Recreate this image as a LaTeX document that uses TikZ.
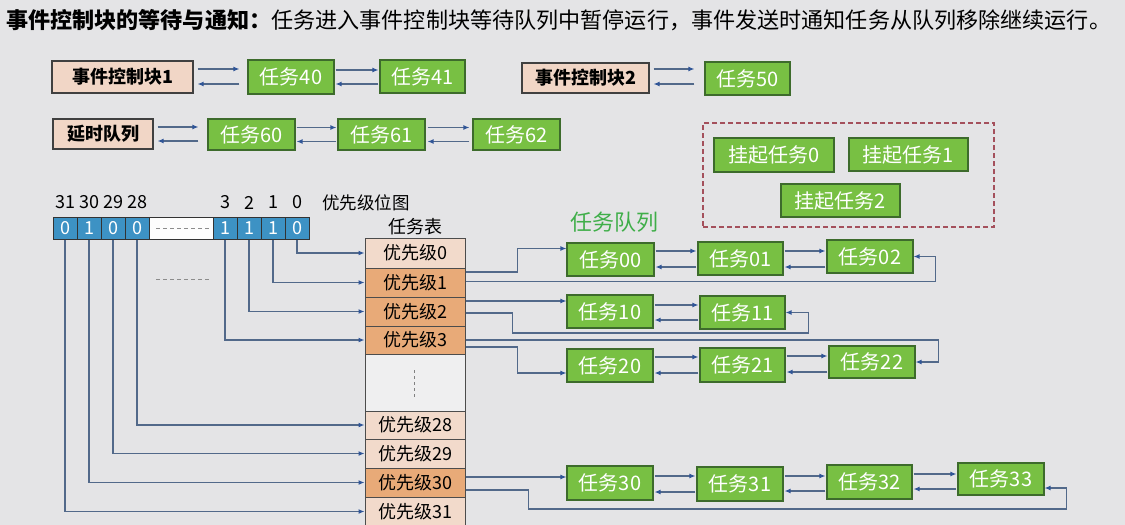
\documentclass[tikz,border=0pt]{standalone}
\usepackage{fontspec}
\setmainfont{Noto Sans CJK SC}
\usetikzlibrary{arrows.meta,calc}
\definecolor{bg}{HTML}{E4E4E6}
\definecolor{peach}{HTML}{F1D6C6}
\definecolor{lpeach}{HTML}{F2DACB}
\definecolor{orng}{HTML}{E8AA78}
\definecolor{tgreen}{HTML}{78C043}
\definecolor{tgreenb}{HTML}{3D6B2C}
\definecolor{connc}{HTML}{52698A}
\definecolor{tipc}{HTML}{2F5597}
\definecolor{bitblue}{HTML}{3D92C4}
\definecolor{dashred}{HTML}{A4505C}
\definecolor{qgreen}{HTML}{3FAE49}
\tikzset{
  evtbox/.style={draw=black!75, line width=1.1pt, fill=peach, inner sep=0pt, text=black, font=\fontsize{18}{18}\selectfont\bfseries},
  taskbox/.style={draw=tgreenb, line width=1.1pt, fill=tgreen, inner sep=0pt, text=white, font=\fontsize{20}{20}\selectfont},
  priobox/.style={draw=black!70, line width=1pt, fill=lpeach, inner sep=0pt, text=black, font=\fontsize{18}{18}\selectfont},
  prioact/.style={priobox, fill=orng},
  bitcell/.style={draw=black!80, line width=1pt, fill=bitblue, inner sep=0pt, text=white, minimum width=24pt, minimum height=22pt, font=\fontsize{18}{18}\selectfont},
  bitnum/.style={inner sep=0pt, text=black, font=\fontsize{18}{18}\selectfont},
  lbl/.style={inner sep=0pt, text=black, font=\fontsize{18}{18}\selectfont},
  conn/.style={draw=connc, line width=1.4pt, -{Latex[length=6pt,width=5pt,color=tipc]}},
  gapline/.style={draw=black!45, line width=1pt, dash pattern=on 4pt off 3pt},
}
\newcommand\bx[7]{\node[#2, minimum width={(#4)-(#3)}, minimum height={(#6)-(#5)}] (#1) at ({((#3)+(#4))/2},{((#5)+(#6))/2}) {#7};}
\newcommand\dlink[6]{%
  \path ($(#1.east)+(0,#3)$) coordinate (fa) ($(#1.east)+(0,#4)$) coordinate (ba);
  \draw[conn, shorten <=#5, shorten >=#6] (fa) -- (fa -| #2.west);
  \draw[conn, shorten <=#6, shorten >=#5] (ba -| #2.west) -- (ba);
}
\begin{document}
\begin{tikzpicture}[x=1pt,y=-1pt]
\fill[bg] (0,0) rectangle (1125,525);
\useasboundingbox (0,0) rectangle (1125,525);

% title
\node[anchor=west, inner sep=0pt, font=\fontsize{22.1}{22.1}\selectfont] (title) at (6,20)
  {{\bfseries 事件控制块的等待与通知：}任务进入事件控制块等待队列中暂停运行，事件发送时通知任务从队列移除继续运行。};

% event control blocks and delay queue
\bx{e1}{evtbox}{52}{193}{61}{93}{事件控制块1}
\bx{t40}{taskbox}{248}{334}{60}{94}{任务40}
\bx{t41}{taskbox}{380}{465}{60}{93}{任务41}
\bx{e2}{evtbox}{522}{649}{63}{93}{事件控制块2}
\bx{t50}{taskbox}{705}{790}{62}{95}{任务50}
\bx{dl}{evtbox}{53}{153}{119}{149}{延时队列}
\bx{t60}{taskbox}{208}{295}{119}{150}{任务60}
\bx{t61}{taskbox}{338}{425}{119}{150}{任务61}
\bx{t62}{taskbox}{473}{560}{119}{150}{任务62}

\dlink{e1}{t40}{-8}{7}{4pt}{8pt}
\dlink{t40}{t41}{-7}{7}{1pt}{1pt}
\dlink{e2}{t50}{-9}{6}{4pt}{10pt}
\dlink{dl}{t60}{-7}{7}{4pt}{9pt}
\dlink{t60}{t61}{-7}{7}{1pt}{1pt}
\dlink{t61}{t62}{-7}{7}{2pt}{3pt}

% suspended tasks
\node[draw=dashred, line width=1.3pt, dash pattern=on 5pt off 3pt, inner sep=0pt,
  minimum width=291pt, minimum height=104pt] (susp) at (848.5,175) {};
\bx{s0}{taskbox}{714}{834}{138}{172}{挂起任务0}
\bx{s1}{taskbox}{849}{968}{138}{171}{挂起任务1}
\bx{s2}{taskbox}{781}{900}{184}{217}{挂起任务2}

% bitmap
\node[draw=black!80, line width=1pt, fill=white!92!bg, inner sep=0pt, minimum width=64pt, minimum height=22pt] (bgap) at (181,228) {};
\draw[gapline] (156,228) -- (210,228);
\draw[gapline] (156,279) -- (210,279);
\bx{b31}{bitcell}{53}{77}{217}{239}{0}
\bx{b30}{bitcell}{77}{101}{217}{239}{1}
\bx{b29}{bitcell}{101}{125}{217}{239}{0}
\bx{b28}{bitcell}{125}{149}{217}{239}{0}
\bx{b3}{bitcell}{213}{237}{217}{239}{1}
\bx{b2}{bitcell}{237}{261}{217}{239}{1}
\bx{b1}{bitcell}{261}{285}{217}{239}{1}
\bx{b0}{bitcell}{285}{309}{217}{239}{0}
\foreach \b in {31,30,29,28,3,2,1,0}{
  \node[bitnum] (n\b) at ($(b\b.north)+(0,-14)$) {\b};
}
\node[lbl, font=\fontsize{17.5}{17.5}\selectfont] (bmlabel) at (366,203) {优先级位图};
\node[lbl] (tbllabel) at (415,227) {任务表};

% task table
\bx{p0}{priobox}{365}{465}{238}{268}{优先级0}
\bx{p1}{prioact}{365}{465}{268}{297}{优先级1}
\bx{p2}{prioact}{365}{465}{297}{326}{优先级2}
\bx{p3}{prioact}{365}{465}{326}{354}{优先级3}
\bx{pgap}{priobox, fill=white!40!bg}{365}{465}{354}{411}{}
\draw[gapline, draw=black!50, dash pattern=on 3pt off 3pt] (414,370) -- (414,397);
\bx{p28}{priobox}{365}{465}{411}{439}{优先级28}
\bx{p29}{priobox}{365}{465}{439}{468}{优先级29}
\bx{p30}{prioact}{365}{465}{468}{497}{优先级30}
\bx{p31}{priobox}{365}{465}{497}{526}{优先级31}

% bitmap to table
\foreach \b in {0,1,2,3,28,29,30,31}{
  \draw[conn] (b\b.south) |- (p\b.west);
}

% task queues
\node[inner sep=0pt, text=qgreen, font=\fontsize{22}{22}\selectfont] (qlabel) at (614,222) {任务队列};
\bx{t00}{taskbox}{567}{654}{243}{276}{任务00}
\bx{t01}{taskbox}{698}{783}{242}{275}{任务01}
\bx{t02}{taskbox}{827}{913}{240}{273}{任务02}
\bx{t10}{taskbox}{567}{653}{295}{328}{任务10}
\bx{t11}{taskbox}{700}{785}{296}{329}{任务11}
\bx{t20}{taskbox}{567}{653}{349}{382}{任务20}
\bx{t21}{taskbox}{700}{785}{348}{382}{任务21}
\bx{t22}{taskbox}{829}{915}{346}{378}{任务22}
\bx{t30}{taskbox}{567}{653}{466}{500}{任务30}
\bx{t31}{taskbox}{697}{783}{467}{501}{任务31}
\bx{t32}{taskbox}{827}{912}{465}{499}{任务32}
\bx{t33}{taskbox}{958}{1044}{463}{495}{任务33}

\dlink{t00}{t01}{-8.5}{7.5}{1pt}{1pt}
\dlink{t01}{t02}{-7.5}{8.5}{1pt}{1pt}
\dlink{t10}{t11}{-6.5}{8.5}{1pt}{1pt}
\dlink{t20}{t21}{-8.5}{7.5}{1pt}{1pt}
\dlink{t21}{t22}{-9}{7}{1pt}{1pt}
\dlink{t30}{t31}{-7}{9}{1pt}{1pt}
\dlink{t31}{t32}{-8}{7}{1pt}{1pt}
\dlink{t32}{t33}{-8}{7}{1pt}{1pt}

% table to queues
\draw[conn] ($(p1.east)+(0,-10.5)$) -- ++(52,0) |- ($(t00.west)+(0,-11)$);
\draw[conn] ($(p1.east)+(0,-1)$) -| ($(t02.east)+(22,0)$) -- (t02.east);
\draw[conn] ($(p2.east)+(0,-10.5)$) coordinate (f2) -- (f2 -| t10.west);
\draw[conn] ($(p2.east)+(0,1.5)$) -- ++(47,0) -- ++(0,20) -| ($(t11.east)+(23,0)$) -- (t11.east);
\draw[conn] (p3.east) -| ($(t22.east)+(23,0)$) -- (t22.east);
\draw[conn] ($(p3.east)+(0,7)$) -- ++(52,0) |- ($(t20.west)+(0,7.5)$);
\draw[conn] ($(p30.east)+(0,-5.5)$) coordinate (f30) -- (f30 -| t30.west);
\draw[conn] ($(p30.east)+(0,7.5)$) -- ++(63,0) -- ++(0,19) -| ($(t33.east)+(22,9)$) -- ($(t33.east)+(0,9)$);
\end{tikzpicture}
\end{document}
